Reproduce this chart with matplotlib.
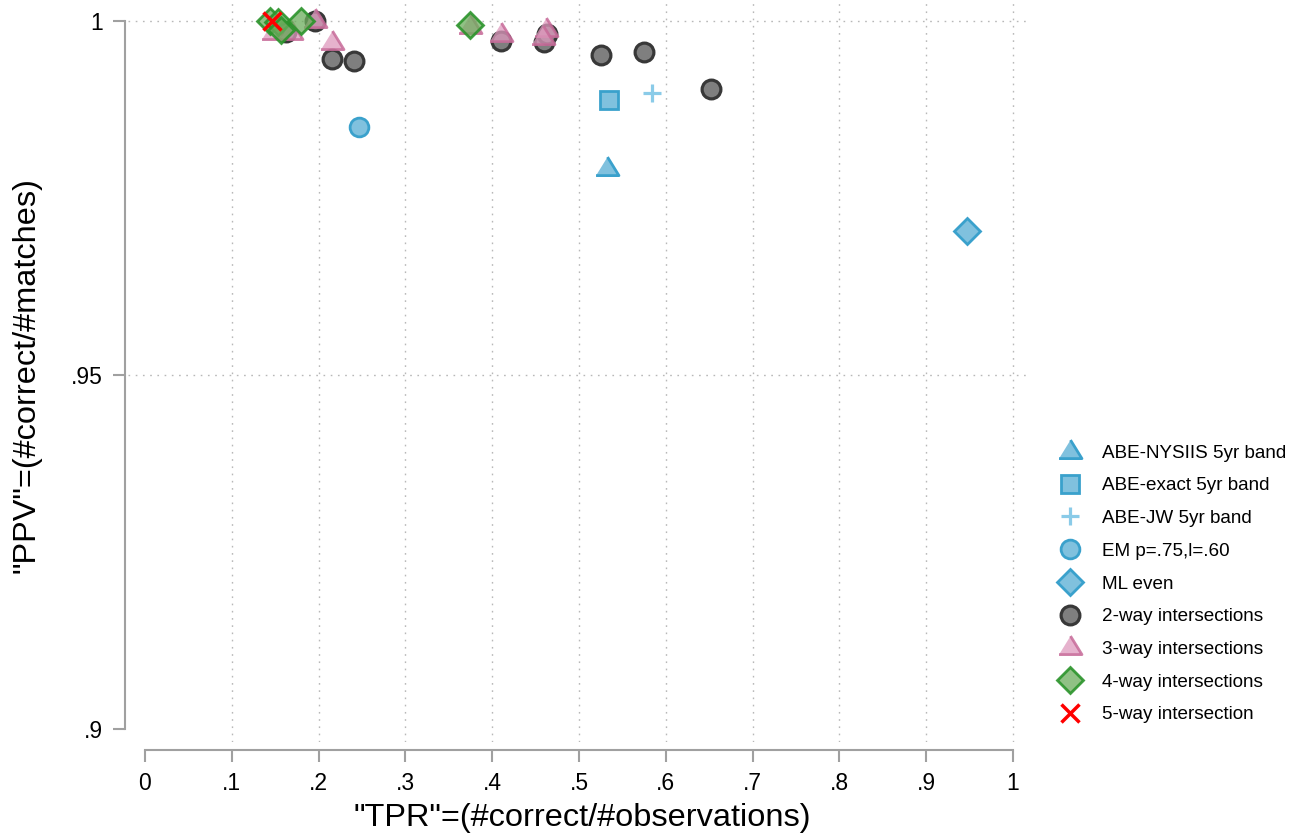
import matplotlib
matplotlib.use("Agg")
import matplotlib.pyplot as plt

plt.rcParams['font.family'] = ['Liberation Sans', 'DejaVu Sans']

# ---- data (TPR, PPV) ----
nysiis_x = [0.532]
nysiis_y = [0.9793]
exact_x = [0.534]
exact_y = [0.98884]
jw_x = [0.584]
jw_y = [0.98979]
em_x = [0.246]
em_y = [0.98507]
ml_x = [0.947]
ml_y = [0.97034]

way2_x = [0.162, 0.196, 0.215, 0.241, 0.410, 0.460, 0.463, 0.525, 0.575, 0.652]
way2_y = [0.9985, 1.0000, 0.99473, 0.99435, 0.99722, 0.99708, 0.99826, 0.99520, 0.99566, 0.99049]

way3_x = [0.147, 0.168, 0.196, 0.215, 0.374, 0.410, 0.462, 0.458]
way3_y = [0.9985, 0.9985, 1.0002, 0.9971, 0.9993, 0.99826, 0.99896, 0.99779]

way4_x = [0.144, 0.153, 0.157, 0.180, 0.374]
way4_y = [1.0000, 0.9999, 0.9987, 1.0000, 0.99944]

way5_x = [0.146]
way5_y = [1.0000]

xticks = [0, 0.1, 0.2, 0.3, 0.4, 0.5, 0.6, 0.7, 0.8, 0.9, 1.0]
xticklabels = ["0", ".1", ".2", ".3", ".4", ".5", ".6", ".7", ".8", ".9", "1"]
yticks = [0.9, 0.95, 1.0]
yticklabels = [".9", ".95", "1"]

labels = ["ABE-NYSIIS 5yr band", "ABE-exact 5yr band", "ABE-JW 5yr band",
          "EM p=.75,l=.60", "ML even", "2-way intersections",
          "3-way intersections", "4-way intersections", "5-way intersection"]

# ---- figure ----
W, H = 1298, 838
fig = plt.figure(figsize=(W / 100, H / 100), dpi=100)
left_px, right_px = 127.6, 1030.4
top_px, bot_px = 0.0, 741.7
ax = fig.add_axes([left_px / W, 1 - bot_px / H, (right_px - left_px) / W, (bot_px - top_px) / H])
ax.set_xlim(-0.02, 1.02)
ax.set_ylim(0.8982, 1.003)

# grid
gcol = '#b8b8b8'
for gy in [0.95, 1.0]:
    ax.axhline(gy, color=gcol, lw=1.0, ls=(0, (1.2, 4)), zorder=0)
for gx in xticks[1:]:
    ax.axvline(gx, color=gcol, lw=1.0, ls=(0, (1.2, 4)), zorder=0)

blue_f, blue_e = '#80c1de', '#3aa1cc'
tri = [(-1, -0.62), (1, -0.62), (0, 1.0)]

styles = [
    dict(marker=tri, ms=16.5, mfc=blue_f, mec=blue_e, mew=2.0),
    dict(marker='s', ms=13, mfc=blue_f, mec=blue_e, mew=2.0),
    dict(marker='+', ms=13.5, mfc=blue_f, mec='#8acbe8', mew=2.3),
    dict(marker='o', ms=13.5, mfc=blue_f, mec=blue_e, mew=2.0),
    dict(marker='D', ms=13.4, mfc=blue_f, mec=blue_e, mew=2.0),
    dict(marker='o', ms=13.5, mfc='#7f7f7f', mec='#383838', mew=2.3),
    dict(marker=tri, ms=16.5, mfc=(0.87, 0.60, 0.74, 0.75), mec=(0.78, 0.42, 0.60, 0.85), mew=2.0),
    dict(marker='D', ms=13.4, mfc=(0.42, 0.68, 0.36, 0.75), mec=(0.17, 0.58, 0.17, 0.9), mew=2.0),
    dict(marker='x', ms=13, mfc='red', mec='red', mew=2.5),
]
series = [(nysiis_x, nysiis_y), (exact_x, exact_y), (jw_x, jw_y), (em_x, em_y),
          (ml_x, ml_y), (way2_x, way2_y), (way3_x, way3_y), (way4_x, way4_y),
          (way5_x, way5_y)]

handles = []
for (xs, ys), st, lab in zip(series, styles, labels):
    ln, = ax.plot(xs, ys, ls='none', label=lab, zorder=3, clip_on=False, **st)
    handles.append(ln)

# axes styling
acol = '#a0a0a0'
for s in ['top', 'right']:
    ax.spines[s].set_visible(False)
ax.spines['left'].set_position(('outward', 2))
ax.spines['bottom'].set_position(('outward', 6))
ax.spines['left'].set_bounds(0.9, 1.0)
ax.spines['bottom'].set_bounds(0.0, 1.0)
for s in ['left', 'bottom']:
    ax.spines[s].set_color(acol)
    ax.spines[s].set_linewidth(1.5)
ax.set_xticks(xticks)
ax.set_xticklabels(xticklabels)
ax.set_yticks(yticks)
ax.set_yticklabels(yticklabels)
ax.tick_params(axis='both', direction='out', length=8.6, width=1.5, color=acol,
               labelsize=16.5, labelcolor='black', pad=7)

fig.text(27 / W, 1 - 375 / H, '"PPV"=(#correct/#matches)', rotation=90,
         ha='center', va='center', fontsize=23.4)
fig.text(582 / W, 1 - 818 / H, '"TPR"=(#correct/#observations)',
         ha='center', va='center', fontsize=23.4)

fig.legend(handles=handles, labels=labels, loc='upper left',
           bbox_to_anchor=(1046 / W, 1 - 435 / H), frameon=False,
           fontsize=13.6, labelspacing=0.82, handlelength=1.5, handletextpad=0.95,
           borderpad=0, numpoints=1)

fig.savefig('out.png', dpi=100)
